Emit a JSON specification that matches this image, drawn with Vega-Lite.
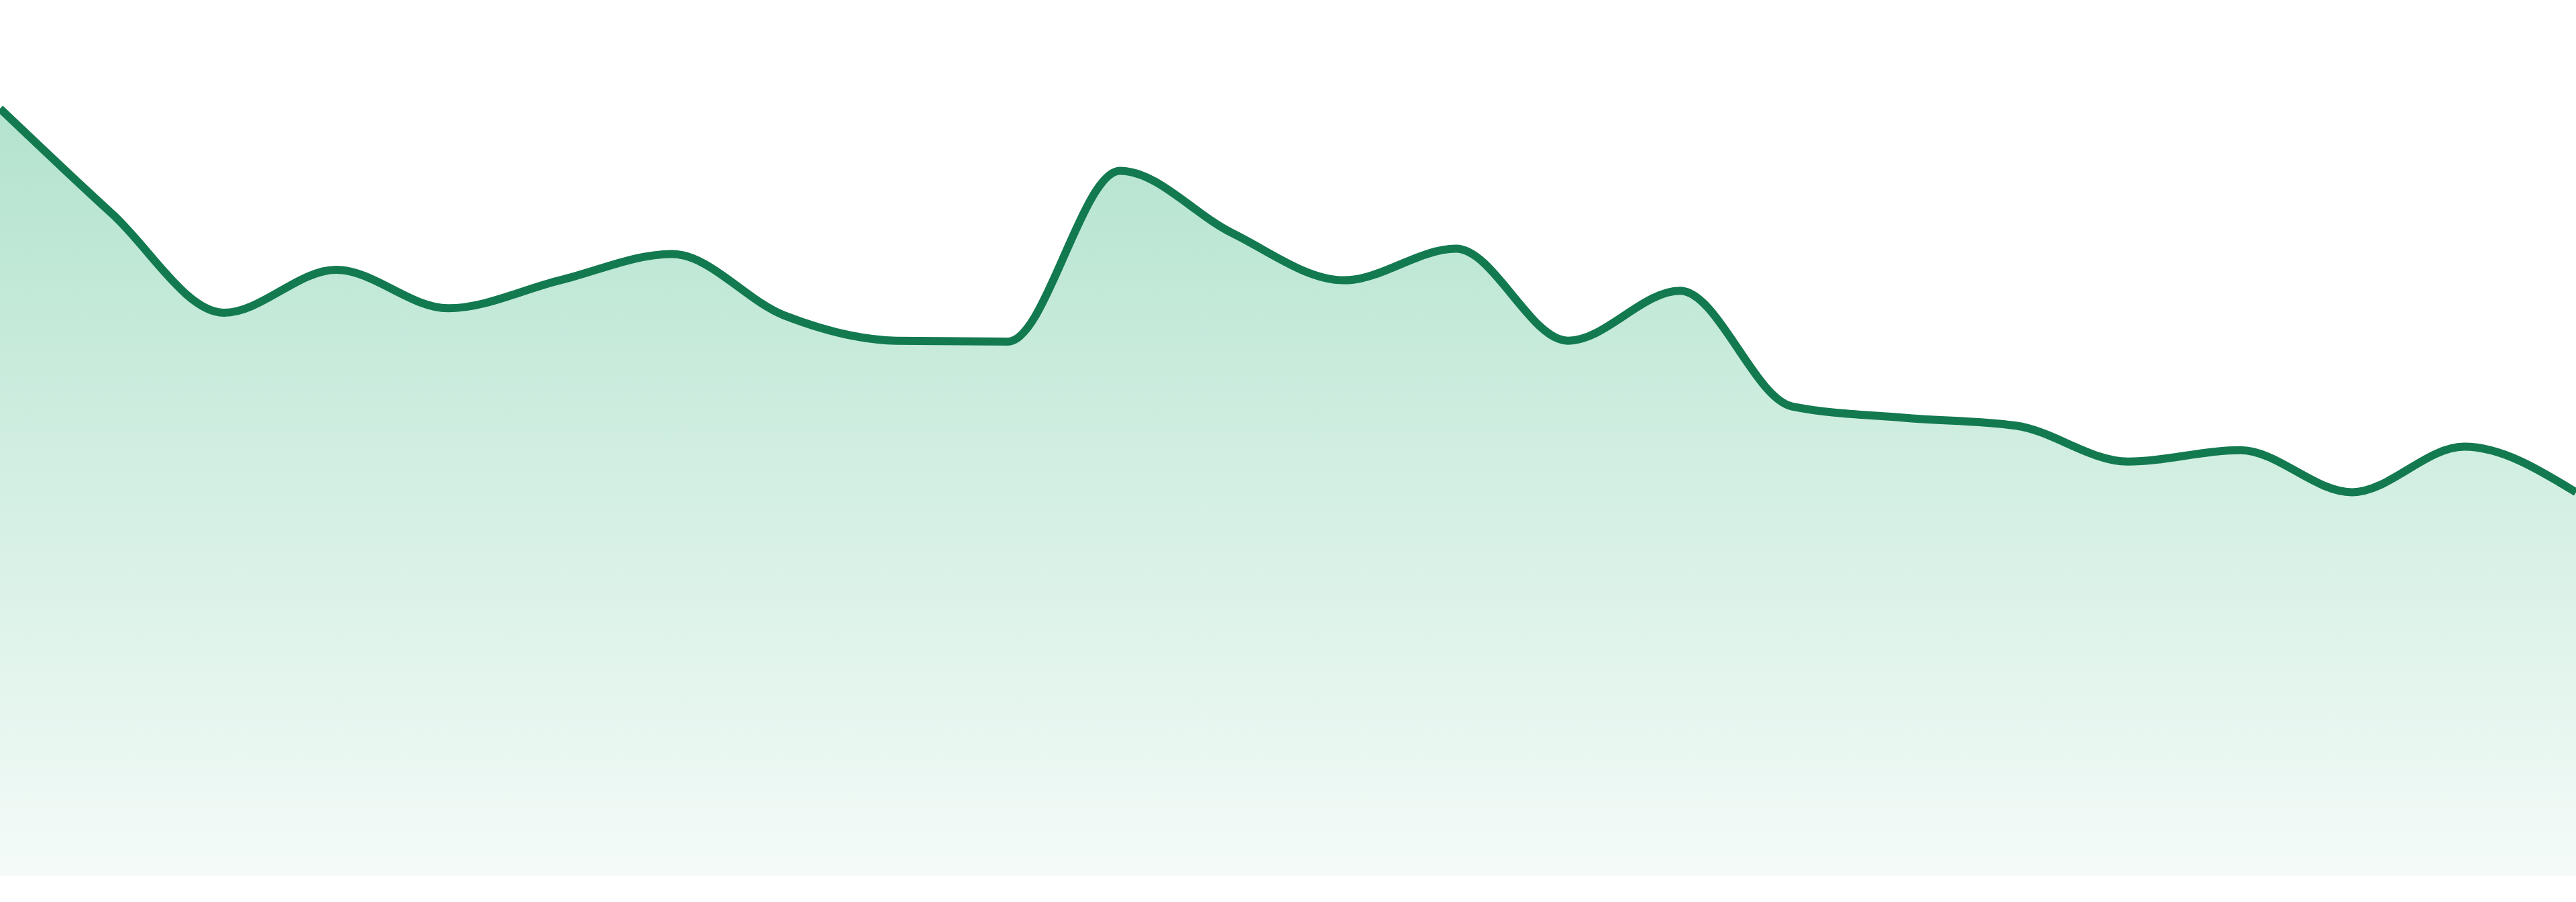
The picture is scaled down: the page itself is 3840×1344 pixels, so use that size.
{
  "$schema": "https://vega.github.io/schema/vega-lite/v6.json",
  "width": 3840,
  "height": 1305,
  "autosize": "none",
  "padding": {"left": 0, "right": 0, "top": 0, "bottom": 39},
  "background": "#ffffff",
  "config": {"view": {"stroke": null}},
  "data": {"values": [
    {"i": 0, "v": 87.6},
    {"i": 1, "v": 75.6},
    {"i": 2, "v": 64.3},
    {"i": 3, "v": 69.2},
    {"i": 4, "v": 64.8},
    {"i": 5, "v": 68.0},
    {"i": 6, "v": 71.0},
    {"i": 7, "v": 64.0},
    {"i": 8, "v": 61.1},
    {"i": 9, "v": 61.0},
    {"i": 10, "v": 80.5},
    {"i": 11, "v": 73.4},
    {"i": 12, "v": 68.0},
    {"i": 13, "v": 71.6},
    {"i": 14, "v": 61.1},
    {"i": 15, "v": 66.8},
    {"i": 16, "v": 53.6},
    {"i": 17, "v": 52.3},
    {"i": 18, "v": 51.4},
    {"i": 19, "v": 47.3},
    {"i": 20, "v": 48.6},
    {"i": 21, "v": 43.8},
    {"i": 22, "v": 49.0},
    {"i": 23, "v": 43.8}
  ]},
  "encoding": {
    "x": {"field": "i", "type": "quantitative", "scale": {"domain": [0, 23], "nice": false, "zero": false}, "axis": null},
    "y": {"field": "v", "type": "quantitative", "scale": {"domain": [0, 100], "nice": false}, "axis": null}
  },
  "layer": [
    {
      "mark": {
        "type": "area",
        "interpolate": "monotone",
        "color": {
          "gradient": "linear",
          "x1": 0, "y1": 0, "x2": 0, "y2": 1,
          "stops": [
            {"offset": 0, "color": "#b3e3ce"},
            {"offset": 1, "color": "#f4fbf8"}
          ]
        }
      }
    },
    {
      "mark": {"type": "line", "interpolate": "monotone", "color": "#137a50", "strokeWidth": 12}
    }
  ]
}
